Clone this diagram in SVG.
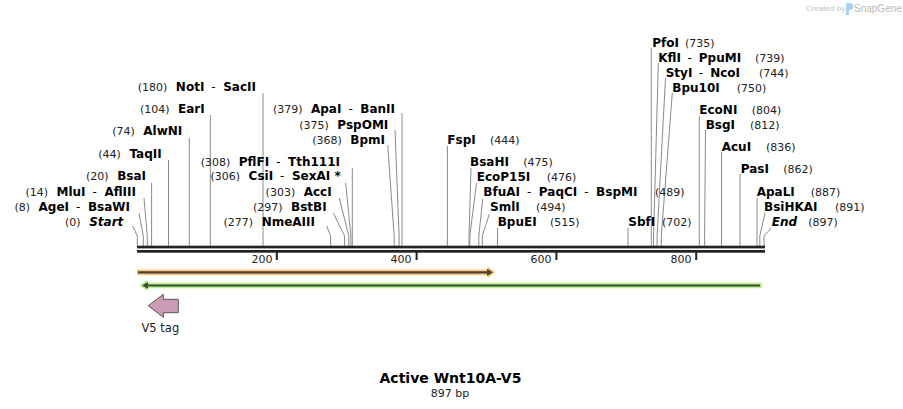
<svg xmlns="http://www.w3.org/2000/svg" width="903" height="409" viewBox="0 0 903 409">
<style>
text{font-family:"DejaVu Sans",Verdana,sans-serif;fill:#000}
.n{font-size:12px;font-weight:bold}
.i{font-style:italic}
.p{font-size:11px;fill:#222}
.h{font-size:12px;font-weight:normal}
.t{font-size:11px;fill:#222}
.c{fill:none;stroke:#8a8a8a;stroke-width:1}
.bar{fill:#222}
</style>
<rect width="903" height="409" fill="#fff"/>
<g id="logo">
<text x="806" y="11" style="font-size:8px;fill:#c4c4c4;font-family:'Liberation Sans',Arial,sans-serif">Created by</text>
<path d="M846,3 h4 a3,3 0 0 1 0,7 h-1 v5 h-3 z" fill="#a9d4ef"/>
<text x="854" y="12" style="font-size:10px;fill:#b8b8b8;font-family:'Liberation Sans',Arial,sans-serif">SnapGene</text>
</g>
<g id="connectors">
<polyline class="c" points="132.7,226 137.3,236 137.3,246"/>
<polyline class="c" points="139,213 143.3,236 143.3,246"/>
<polyline class="c" points="144,198 147.3,236 147.3,246"/>
<line class="c" x1="151.6" y1="183" x2="151.6" y2="246"/>
<line class="c" x1="168.5" y1="160" x2="168.5" y2="246"/>
<line class="c" x1="189.3" y1="138" x2="189.3" y2="246"/>
<line class="c" x1="210.3" y1="115" x2="210.3" y2="246"/>
<line class="c" x1="263" y1="93" x2="263" y2="246"/>
<polyline class="c" points="326.7,226 330.6,236 330.6,246"/>
<polyline class="c" points="333.3,213 344.6,236 344.6,246"/>
<polyline class="c" points="339.3,198 348.8,236 348.8,246"/>
<polyline class="c" points="345.7,183 350.9,236 350.9,246"/>
<line class="c" x1="352.3" y1="168" x2="352.3" y2="246"/>
<polyline class="c" points="387.7,145 394.2,236 394.2,246"/>
<polyline class="c" points="395,130 399.1,236 399.1,246"/>
<line class="c" x1="402" y1="113" x2="402" y2="246"/>
<line class="c" x1="447.4" y1="146" x2="447.4" y2="246"/>
<polyline class="c" points="471,168 469,236 469,246"/>
<polyline class="c" points="476.5,183 469.8,236 469.8,246"/>
<polyline class="c" points="482.7,199 478.8,236 478.8,246"/>
<polyline class="c" points="489.3,214 482.3,236 482.3,246"/>
<line class="c" x1="497.5" y1="228" x2="497.5" y2="246"/>
<line class="c" x1="628" y1="228" x2="628" y2="246"/>
<line class="c" x1="651.3" y1="48" x2="651.3" y2="246"/>
<polyline class="c" points="658.3,63 653.6,236 653.6,246"/>
<polyline class="c" points="665.5,78 657.1,236 657.1,246"/>
<polyline class="c" points="672.3,93 661.3,236 661.3,246"/>
<line class="c" x1="699.3" y1="116" x2="699.3" y2="246"/>
<polyline class="c" points="705.5,130 704.6,236 704.6,246"/>
<line class="c" x1="721.5" y1="152" x2="721.5" y2="246"/>
<line class="c" x1="740" y1="174" x2="740" y2="246"/>
<line class="c" x1="757" y1="198" x2="757" y2="246"/>
<polyline class="c" points="765,213 759.8,236 759.8,246"/>
<polyline class="c" points="771.3,228 764,236 764,246"/>
</g>
<g id="sequence">
<rect class="bar" x="137" y="245.7" width="628" height="2.7"/>
<rect class="bar" x="137" y="250" width="628" height="2.7"/>
<rect class="bar" x="275.8" y="252" width="2" height="8"/>
<rect class="bar" x="415.6" y="252" width="2" height="8"/>
<rect class="bar" x="555.4" y="252" width="2" height="8"/>
<rect class="bar" x="695.2" y="252" width="2" height="8"/>
<text class="t" x="272.5" y="263" text-anchor="end">200</text>
<text class="t" x="411.5" y="263" text-anchor="end">400</text>
<text class="t" x="551.5" y="263" text-anchor="end">600</text>
<text class="t" x="691.5" y="263" text-anchor="end">800</text>
</g>
<g id="feature-orange">
<polygon points="137,269.5 488,269.5 488,266.7 495.5,272.3 488,278 488,275.3 137,275.3" fill="#fcc87c"/>
<line x1="138" y1="272.3" x2="489" y2="272.3" stroke="#4a4035" stroke-width="2.2"/>
<polygon points="487,268.7 493,272.3 487,276" fill="#4a4035"/>
</g>
<g id="feature-green">
<polygon points="139.5,285.5 147,280 147,282.7 762,282.7 762,288.3 147,288.3 147,291" fill="#b8f08e"/>
<line x1="146" y1="285.5" x2="760" y2="285.5" stroke="#3d4a35" stroke-width="2.2"/>
<polygon points="142,285.5 148,282 148,289" fill="#3d4a35"/>
</g>
<g id="v5-tag">
<polygon points="148.3,305.7 163.3,294.3 163.3,299.3 178.3,299.3 178.3,312.7 163.3,312.7 163.3,317.3" fill="#cb9bb7" stroke="#555" stroke-width="1"/>
<text x="141.5" y="331.5" style="font-size:11.5px;fill:#222">V5 tag</text>
</g>
<g id="site-start"><text x="123.3" y="225.5" text-anchor="end"><tspan class="p">(0)</tspan><tspan class="n i" dx="8.5">Start</tspan></text></g>
<g id="site-agei"><text x="130" y="210.5" text-anchor="end"><tspan class="p">(8)</tspan><tspan class="n" dx="8.5">AgeI</tspan><tspan class="h" dx="7">-</tspan><tspan class="n" dx="7.5">BsaWI</tspan></text></g>
<g id="site-mlui"><text x="136" y="195.5" text-anchor="end"><tspan class="p">(14)</tspan><tspan class="n" dx="8.5">MluI</tspan><tspan class="h" dx="7">-</tspan><tspan class="n" dx="7.5">AflIII</tspan></text></g>
<g id="site-bsai"><text x="146" y="180" text-anchor="end"><tspan class="p">(20)</tspan><tspan class="n" dx="8.5">BsaI</tspan></text></g>
<g id="site-taqii"><text x="161.7" y="157.5" text-anchor="end"><tspan class="p">(44)</tspan><tspan class="n" dx="8.5">TaqII</tspan></text></g>
<g id="site-alwni"><text x="182.3" y="135" text-anchor="end"><tspan class="p">(74)</tspan><tspan class="n" dx="8.5">AlwNI</tspan></text></g>
<g id="site-eari"><text x="204.7" y="112.5" text-anchor="end"><tspan class="p">(104)</tspan><tspan class="n" dx="8.5">EarI</tspan></text></g>
<g id="site-noti"><text x="256" y="90.5" text-anchor="end"><tspan class="p">(180)</tspan><tspan class="n" dx="8.5">NotI</tspan><tspan class="h" dx="7">-</tspan><tspan class="n" dx="7.5">SacII</tspan></text></g>
<g id="site-nmeaiii"><text x="315" y="225.5" text-anchor="end"><tspan class="p">(277)</tspan><tspan class="n" dx="8.5">NmeAIII</tspan></text></g>
<g id="site-bstbi"><text x="326.7" y="210.5" text-anchor="end"><tspan class="p">(297)</tspan><tspan class="n" dx="8.5">BstBI</tspan></text></g>
<g id="site-acci"><text x="331.7" y="195.5" text-anchor="end"><tspan class="p">(303)</tspan><tspan class="n" dx="8.5">AccI</tspan></text></g>
<g id="site-csii"><text x="340.7" y="180" text-anchor="end"><tspan class="p">(306)</tspan><tspan class="n" dx="8.5">CsiI</tspan><tspan class="h" dx="7">-</tspan><tspan class="n" dx="7.5">SexAI *</tspan></text></g>
<g id="site-pflfi"><text x="340" y="165.5" text-anchor="end"><tspan class="p">(308)</tspan><tspan class="n" dx="8.5">PflFI</tspan><tspan class="h" dx="7">-</tspan><tspan class="n" dx="7.5">Tth111I</tspan></text></g>
<g id="site-bpmi"><text x="385" y="143.5" text-anchor="end"><tspan class="p">(368)</tspan><tspan class="n" dx="8.5">BpmI</tspan></text></g>
<g id="site-pspomi"><text x="388.3" y="128.5" text-anchor="end"><tspan class="p">(375)</tspan><tspan class="n" dx="8.5">PspOMI</tspan></text></g>
<g id="site-apai"><text x="395" y="112.5" text-anchor="end"><tspan class="p">(379)</tspan><tspan class="n" dx="8.5">ApaI</tspan><tspan class="h" dx="7">-</tspan><tspan class="n" dx="7.5">BanII</tspan></text></g>
<g id="site-fspi"><text class="n" x="447.3" y="143.5">FspI</text><text class="p" x="490" y="143.5">(444)</text></g>
<g id="site-bsahi"><text class="n" x="470" y="165.5">BsaHI</text><text class="p" x="523.3" y="165.5">(475)</text></g>
<g id="site-ecop15i"><text class="n" x="476.7" y="180.5">EcoP15I</text><text class="p" x="546.7" y="180.5">(476)</text></g>
<g id="site-bfuai"><text x="483.3" y="195.5"><tspan class="n">BfuAI</tspan><tspan class="h" dx="7">-</tspan><tspan class="n" dx="7.5">PaqCI</tspan><tspan class="h" dx="7">-</tspan><tspan class="n" dx="7.5">BspMI</tspan></text><text class="p" x="655" y="195.5">(489)</text></g>
<g id="site-smli"><text class="n" x="490" y="210.5">SmlI</text><text class="p" x="536" y="210.5">(494)</text></g>
<g id="site-bpuei"><text class="n" x="497.7" y="225.5">BpuEI</text><text class="p" x="550" y="225.5">(515)</text></g>
<g id="site-sbfi"><text class="n" x="628.3" y="225.5">SbfI</text><text class="p" x="662" y="225.5">(702)</text></g>
<g id="site-pfoi"><text class="n" x="652.3" y="46.5">PfoI</text><text class="p" x="685" y="46.5">(735)</text></g>
<g id="site-kfli"><text x="658.3" y="61.5"><tspan class="n">KflI</tspan><tspan class="h" dx="6.5">-</tspan><tspan class="n" dx="7">PpuMI</tspan></text><text class="p" x="755" y="61.5">(739)</text></g>
<g id="site-styi"><text x="665.7" y="76.5"><tspan class="n">StyI</tspan><tspan class="h" dx="6.5">-</tspan><tspan class="n" dx="7">NcoI</tspan></text><text class="p" x="759" y="76.5">(744)</text></g>
<g id="site-bpu10i"><text class="n" x="672.3" y="91.5">Bpu10I</text><text class="p" x="736.7" y="91.5">(750)</text></g>
<g id="site-econi"><text class="n" x="699.3" y="113.5">EcoNI</text><text class="p" x="751.7" y="113.5">(804)</text></g>
<g id="site-bsgi"><text class="n" x="705.7" y="128.5">BsgI</text><text class="p" x="750" y="128.5">(812)</text></g>
<g id="site-acui"><text class="n" x="721.7" y="150.5">AcuI</text><text class="p" x="766" y="150.5">(836)</text></g>
<g id="site-pasi"><text class="n" x="740.7" y="172.5">PasI</text><text class="p" x="783.3" y="172.5">(862)</text></g>
<g id="site-apali"><text class="n" x="756.7" y="195.5">ApaLI</text><text class="p" x="810.7" y="195.5">(887)</text></g>
<g id="site-bsihkai"><text class="n" x="764" y="210.5">BsiHKAI</text><text class="p" x="835" y="210.5">(891)</text></g>
<g id="site-end"><text class="n i" x="771.7" y="225.5">End</text><text class="p" x="808.3" y="225.5">(897)</text></g>
<g id="title">
<text x="450.5" y="383" text-anchor="middle" style="font-size:14px;font-weight:bold">Active Wnt10A-V5</text>
<text x="450" y="396.5" text-anchor="middle" style="font-size:11px;fill:#222">897 bp</text>
</g>
</svg>
